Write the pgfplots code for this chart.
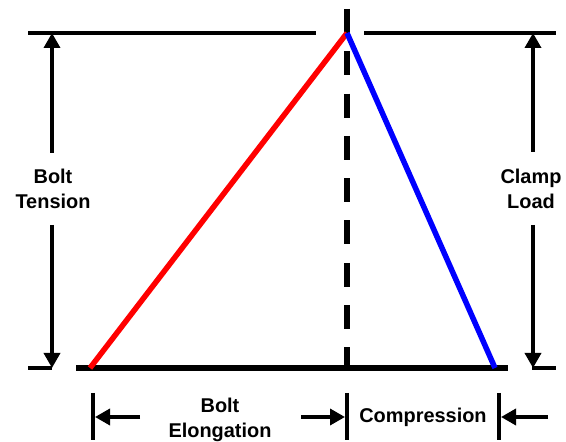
\documentclass[border=0pt]{standalone}
\usepackage{fontspec}
\setmainfont{Liberation Sans}
\usepackage{pgfplots}
\pgfplotsset{compat=1.18}
\usetikzlibrary{arrows.meta}
\begin{document}
\begin{tikzpicture}
\tikzset{lbl/.style={font=\bfseries\fontsize{20}{25}\selectfont,align=center,inner sep=0pt},
  arr/.style={line width=3.5bp,-{Triangle[length=15bp,width=16bp]}}}
\begin{axis}[
  width=566bp, height=442bp, scale only axis,
  xmin=0, xmax=566, ymin=0, ymax=442,
  hide axis, clip=false]
% reference lines
\addplot[black,line width=3.5bp] coordinates {(28,409) (316,409)};
\addplot[black,line width=3.5bp] coordinates {(364,409) (556,409)};
\addplot[black,line width=5.5bp] coordinates {(76,74) (508,74)};
\addplot[black,line width=3.5bp] coordinates {(28,74) (52,74)};
\addplot[black,line width=3.5bp] coordinates {(532,74) (556,74)};
\addplot[black,line width=5.5bp,dash pattern=on 24bp off 18.3bp] coordinates {(347,433) (347,72)};
% joint diagram
\addplot[red,line width=5.5bp] coordinates {(90,74) (347,409)};
\addplot[blue,line width=5.5bp] coordinates {(347,409) (495,74)};
% vertical dimension arrows
\draw[arr] (axis cs:52,289) -- (axis cs:52,409);
\draw[arr] (axis cs:52,217) -- (axis cs:52,74);
\draw[arr] (axis cs:533,290) -- (axis cs:533,409);
\draw[arr] (axis cs:533,217) -- (axis cs:533,74);
\node[lbl] at (axis cs:53,253) {Bolt\\Tension};
\node[lbl] at (axis cs:531,253) {Clamp\\Load};
% horizontal dimension arrows
\draw[black,line width=3.5bp] (axis cs:93,49) -- (axis cs:93,2);
\draw[black,line width=3.5bp] (axis cs:347,49) -- (axis cs:347,2);
\draw[black,line width=3.5bp] (axis cs:499,49) -- (axis cs:499,2);
\draw[arr] (axis cs:140,25) -- (axis cs:95,25);
\draw[arr] (axis cs:301,25) -- (axis cs:345,25);
\draw[arr] (axis cs:548,25) -- (axis cs:501,25);
\node[lbl] at (axis cs:220,22) {Bolt\\Elongation};
\node[lbl] at (axis cs:423,25) {Compression};
\end{axis}
\path[use as bounding box] (current axis.south west) rectangle (current axis.north east);
\end{tikzpicture}
\end{document}
